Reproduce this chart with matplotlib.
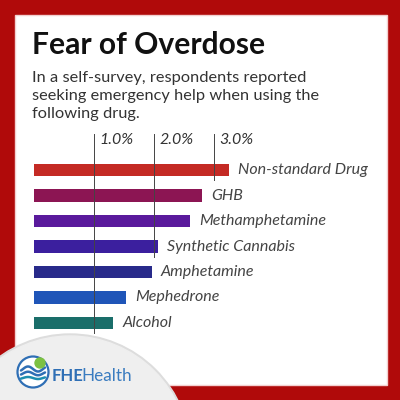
import numpy as np
import matplotlib
matplotlib.use("Agg")
import matplotlib.pyplot as plt
from matplotlib.patches import Rectangle, Circle

# ---- data ----
drugs = ["Non-standard Drug", "GHB", "Methamphetamine", "Synthetic Cannabis",
         "Amphetamine", "Mephedrone", "Alcohol"]
values = [3.25, 2.81, 2.61, 2.07, 1.97, 1.54, 1.33]
bar_colors = ["#c42a24", "#8c1553", "#5a1a9c", "#3b1f9e", "#282a8a", "#1f55b8", "#1a6e6a"]
ticks = [1.0, 2.0, 3.0]
tick_labels = ["1.0%", "2.0%", "3.0%"]
title = "Fear of Overdose"
subtitle = ["In a self-survey, respondents reported",
            "seeking emergency help when using the",
            "following drug."]

FONT = "Lato"
RED = "#b00a0a"

fig = plt.figure(figsize=(4, 4), dpi=100)
fig.patch.set_facecolor(RED)
renderer = fig.canvas.get_renderer()


def fit_width(txt, target_px):
    """Scale a text's font size so it spans target_px pixels."""
    w = txt.get_window_extent(renderer=renderer).width
    txt.set_fontsize(txt.get_fontsize() * target_px / w)


# background / decoration axes in pixel coords
bg = fig.add_axes([0, 0, 1, 1])
bg.set_xlim(0, 400)
bg.set_ylim(400, 0)
bg.axis("off")
bg.add_patch(Rectangle((0, 0), 400, 400, color=RED, zorder=0))
bg.add_patch(Rectangle((15, 15), 372, 370, facecolor="white", edgecolor="#f3d0d0",
                       lw=1.0, zorder=1))
# gray logo disc with soft edge
bg.add_patch(Circle((70, 455), 121, color="#dddddd", zorder=2))
bg.add_patch(Circle((70, 455), 119, color="#efefef", zorder=2))

# title & subtitle
tt = bg.text(32, 54.5, title, fontsize=20, fontweight="bold", family=FONT,
             color="#111111", va="baseline", ha="left", zorder=5)
fit_width(tt, 233)
sub_size = 11.8
for i, line in enumerate(subtitle):
    st = bg.text(32, 81.7 + 18.3 * i, line, fontsize=sub_size, family=FONT,
                 color="#333333", va="baseline", ha="left", zorder=5)
    if i == 1:
        fit_width(st, 286)

# logo
bg.add_patch(Circle((33, 372), 15.5, facecolor="white", edgecolor="#2f6fb5", lw=1.6, zorder=5))
t = np.linspace(-1, 1, 50)
for k, (dy, col) in enumerate([(-3, "#2f6fb5"), (1.5, "#2f6fb5"), (6, "#1d8fb0")]):
    xs = 33 + 12 * t
    ys = 372 + dy + 2.5 * np.sin(t * np.pi * 1.2) * (1 - 0.3 * k)
    bg.plot(xs, ys, color=col, lw=1.8, zorder=6, solid_capstyle="round")
bg.add_patch(Circle((40, 363), 5, color="#7cc142", zorder=6))
fhe = bg.text(52, 376, "FHE", fontsize=12, fontweight="bold", family=FONT,
              color="#2f6fb5", va="center", ha="left", zorder=6)
ext = fhe.get_window_extent(renderer=renderer)
x_end = bg.transData.inverted().transform((ext.x1, ext.y0))[0]
bg.text(x_end - 2.5, 376, "Health", fontsize=12.3, family=FONT,
        color="#3a7cc0", va="center", ha="left", zorder=6)

# ---- bar axes ----
x0_px, scale = 33.5, 60.0           # px of zero, px per 1%
top_px, bot_px = 125.0, 335.0
y0_px, step = 170.0, 25.5
ax_w_px = 350.0
ax = fig.add_axes([x0_px / 400, 1 - bot_px / 400, ax_w_px / 400, (bot_px - top_px) / 400])
ax.set_xlim(0, ax_w_px / scale)
ax.set_ylim((bot_px - y0_px) / step, (top_px - y0_px) / step)
ax.axis("off")
ax.patch.set_alpha(0)
ypos = np.arange(len(drugs))
ax.barh(ypos, values, height=0.49, color=bar_colors, zorder=2)

for y, v, name in zip(ypos, values, drugs):
    ax.text(v + 0.15, y, name, fontsize=11.5, style="italic", family=FONT,
            color="#444444", va="center", ha="left", zorder=3)

line_top = (134 - y0_px) / step
lab_y = (139.5 - y0_px) / step
for tk, lab in zip(ticks, tick_labels):
    last = max(i for i, v in enumerate(values) if v >= tk)
    ax.plot([tk, tk], [line_top, last + 0.4], color="#444444", lw=0.7, zorder=4)
    ax.text(tk + 0.1, lab_y, lab, fontsize=11.5, style="italic", family=FONT,
            color="#333333", va="center", ha="left", zorder=4)

fig.savefig("out.png", dpi=100, facecolor=RED)
